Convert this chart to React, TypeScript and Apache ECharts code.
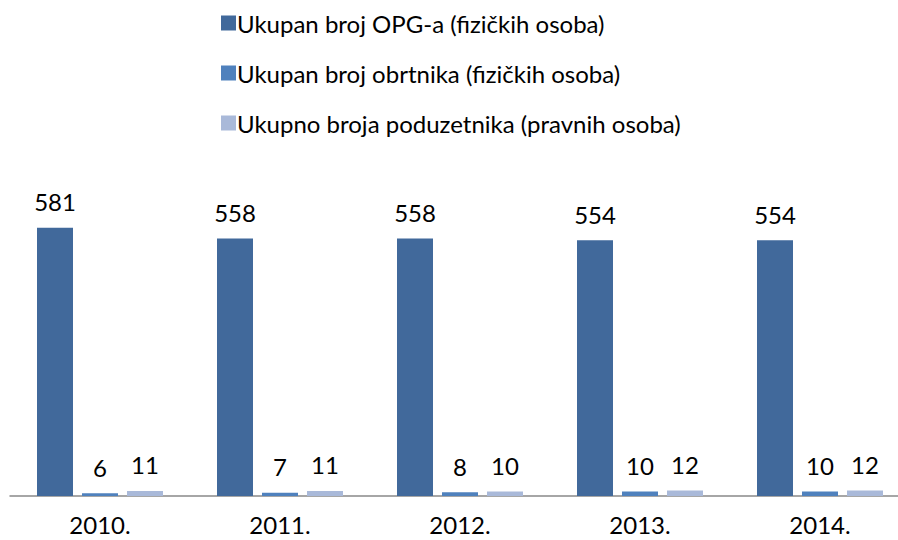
import React, { useEffect, useRef } from "react";
import * as echarts from "echarts";

const categories = ["2010.", "2011.", "2012.", "2013.", "2014."];
const seriesNames = [
  "Ukupan broj OPG-a (fizičkih osoba)",
  "Ukupan broj obrtnika (fizičkih osoba)",
  "Ukupno broja poduzetnika (pravnih osoba)",
];
const opg = [581, 558, 558, 554, 554];
const obrtnici = [6, 7, 8, 10, 10];
const poduzetnici = [11, 11, 10, 12, 12];
const colors = ["#41699b", "#4f81bd", "#a9b9d9"];

const FONT = "Lato, 'Open Sans', sans-serif";

export default function App() {
  const ref = useRef<HTMLDivElement>(null);
  useEffect(() => {
    if (!ref.current) return;
    const chart = echarts.init(ref.current, undefined, { renderer: "svg" });
    const data = [opg, obrtnici, poduzetnici];
    chart.setOption({
      animation: false,
      textStyle: { fontFamily: FONT },
      legend: {
        orient: "vertical",
        left: 216,
        top: 5,
        itemWidth: 15,
        itemHeight: 15,
        itemGap: 24,
        icon: "rect",
        textStyle: { fontSize: 24, color: "#000", fontFamily: FONT, padding: [0, 0, 0, -4], lineHeight: 26 },
        data: seriesNames,
      },
      grid: { left: 10, top: 219, right: 0, bottom: 44, containLabel: false },
      xAxis: {
        type: "category",
        data: categories,
        axisLine: { lineStyle: { color: "#898989", width: 1.5 } },
        axisTick: { show: false },
        axisLabel: { fontSize: 24, color: "#000", margin: 16, fontFamily: FONT },
      },
      yAxis: {
        type: "value",
        min: 0,
        max: 600,
        show: false,
        splitLine: { show: false },
      },
      series: seriesNames.map((name, i) => ({
        name,
        type: "bar",
        data: data[i],
        barWidth: 36,
        barGap: "25%",
        itemStyle: { color: colors[i] },
        label: {
          show: true,
          position: "top",
          distance: 14,
          fontSize: 24,
          color: "#000",
          fontFamily: FONT,
        },
      })),
    });
    return () => chart.dispose();
  }, []);
  return (
    <div style={{ position: "absolute", left: 0, top: 0, width: 898, height: 540, overflow: "hidden" }}>
      <div ref={ref} style={{ width: 910, height: 540 }} />
    </div>
  );
}
